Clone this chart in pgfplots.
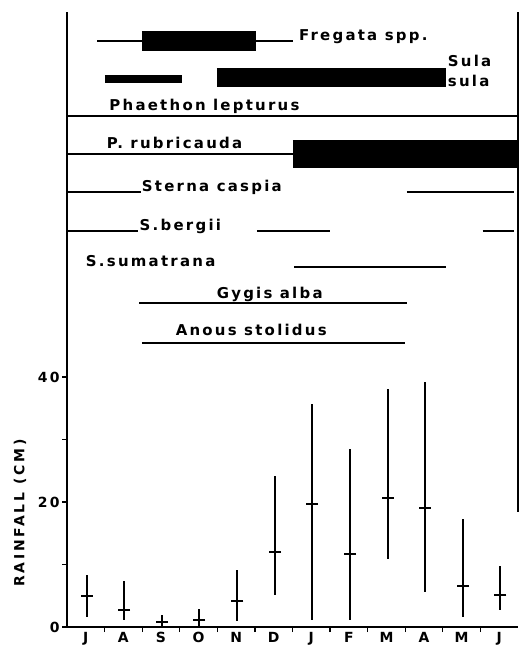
\documentclass[border=0pt]{standalone}
\usepackage{fontspec}
\setmainfont{DejaVu Sans}
\newfontfamily\labfont[LetterSpace=15]{DejaVu Sans}
\newfontfamily\ylfont[LetterSpace=20]{DejaVu Sans}
\usepackage{pgfplots}
\pgfplotsset{compat=1.18}
\usepackage{pgfplotstable}

\pgfplotstableread{
x     m     lo    hi
0.53  5.0   1.6   8.3
1.52  2.8   1.1   7.3
2.53  0.8   0.0   1.9
3.52  1.2   0.2   2.9
4.53  4.2   0.9   9.1
5.54  12.0  5.1   24.1
6.52  19.6  1.2   35.6
7.53  11.6  1.2   28.5
8.53  20.7  10.8  38.0
9.52  19.0  5.6   39.2
10.54 6.5   1.6   17.3
11.53 5.1   2.8   9.8
}\rain

\newcommand{\lf}{\labfont\bfseries\fontsize{15}{15}\selectfont}
\newcommand{\tf}{\labfont\bfseries\fontsize{14}{14}\selectfont}
\newcommand{\yf}{\ylfont\bfseries\fontsize{14}{14}\selectfont}

\begin{document}
\begin{tikzpicture}
\begin{axis}[
  at={(0,0)}, anchor=south west,
  scale only axis, width=451bp, height=615bp,
  xmin=0, xmax=12, ymin=0, ymax=98.4,
  axis x line=bottom, axis y line=left,
  axis line style={-, line width=2bp},
  clip=false,
  tick align=outside,
  major tick length=5bp,
  tick style={black, line width=1.2bp},
  xtick={1,...,11}, xticklabels={},
  extra x ticks={0.5,1.5,...,11.5},
  extra x tick labels={J,A,S,O,N,D,J,F,M,A,M,J},
  extra x tick style={major tick length=0pt},
  xticklabel style={font=\tf, anchor=north, yshift=-2bp},
  ytick={0,10,20,30,40}, yticklabels={0,,20,,40},
  yticklabel style={font=\tf, xshift=1bp},
  /pgf/number format/assume math mode=true,
]
% breeding seasons
\addplot[black, line width=2bp] coordinates {(0.80,93.76) (6.01,93.76)};
\addplot[black, line width=20bp] coordinates {(1.99,93.76) (5.03,93.76)};
\addplot[black, line width=8.5bp] coordinates {(1.01,87.7) (3.06,87.7)};
\addplot[black, line width=19bp] coordinates {(3.99,87.9) (10.08,87.9)};
\addplot[black, line width=2bp] coordinates {(0,81.76) (12,81.76)};
\addplot[black, line width=2bp] coordinates {(0,75.6) (6.01,75.6)};
\addplot[black, line width=28bp] coordinates {(6.01,75.65) (12,75.65)};
\addplot[black, line width=1.8bp] coordinates {(0,69.55) (1.96,69.55)};
\addplot[black, line width=1.8bp] coordinates {(9.04,69.55) (11.9,69.55)};
\addplot[black, line width=1.8bp] coordinates {(0,63.4) (1.9,63.4)};
\addplot[black, line width=1.8bp] coordinates {(5.05,63.4) (7.0,63.4)};
\addplot[black, line width=1.8bp] coordinates {(11.06,63.4) (11.9,63.4)};
\addplot[black, line width=1.8bp] coordinates {(6.04,57.55) (10.08,57.55)};
\addplot[black, line width=1.8bp] coordinates {(1.92,51.9) (9.04,51.9)};
\addplot[black, line width=1.8bp] coordinates {(1.99,45.4) (8.99,45.4)};
% right frame line
\addplot[black, line width=2bp] coordinates {(12,18.4) (12,98.4)};
% rainfall
\addplot[black, only marks, mark=-, mark size=6bp, mark options={line width=2bp},
  error bars/.cd, y dir=both, y explicit, error mark=none,
  error bar style={line width=2bp}]
  table[x=x, y=m, y error plus expr=\thisrow{hi}-\thisrow{m},
        y error minus expr=\thisrow{m}-\thisrow{lo}] {\rain};
% labels
\node[anchor=base west, font=\lf, inner sep=0pt] at (axis cs:6.17,93.84) {Fregata spp.};
\node[anchor=base west, font=\lf, inner sep=0pt] at (axis cs:10.13,89.6) {Sula};
\node[anchor=base west, font=\lf, inner sep=0pt] at (axis cs:10.13,86.48) {sula};
\node[anchor=base west, font=\lf, inner sep=0pt] at (axis cs:1.125,82.56) {Phaethon lepturus};
\node[anchor=base west, font=\lf, inner sep=0pt] at (axis cs:1.056,76.6) {P. rubricauda};
\node[anchor=base west, font=\lf, inner sep=0pt] at (axis cs:1.99,69.6) {Sterna caspia};
\node[anchor=base west, font=\lf, inner sep=0pt] at (axis cs:1.93,63.5) {S.bergii};
\node[anchor=base west, font=\lf, inner sep=0pt] at (axis cs:0.5,57.65) {S.sumatrana};
\node[anchor=base west, font=\lf, inner sep=0pt] at (axis cs:3.98,52.56) {Gygis alba};
\node[anchor=base west, font=\lf, inner sep=0pt] at (axis cs:2.89,46.56) {Anous stolidus};
\node[rotate=90, font=\yf, anchor=center] at ([xshift=-47bp]axis cs:0,18.2) {RAINFALL (CM)};
\end{axis}
\pgfresetboundingbox
\path (-67bp,-19bp) rectangle (452bp,627bp);
\end{tikzpicture}
\end{document}
